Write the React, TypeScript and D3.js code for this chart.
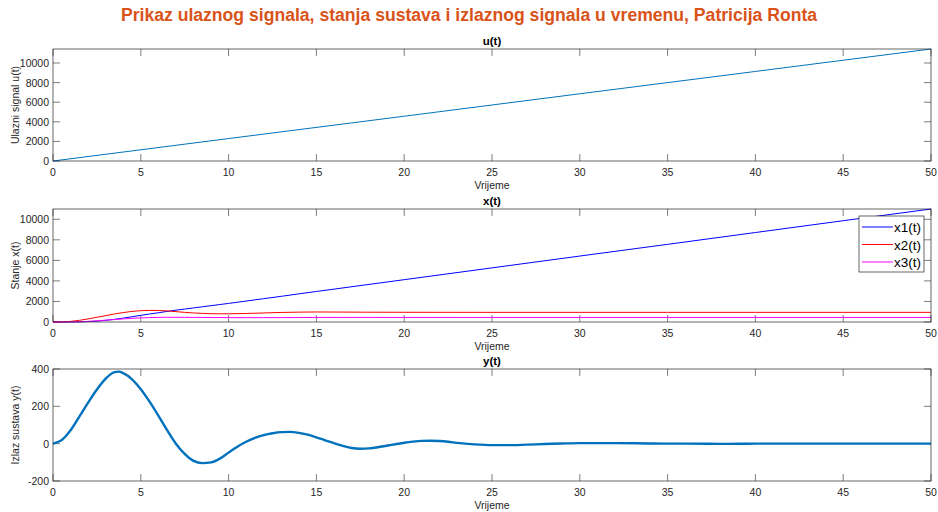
import React, { useEffect, useRef } from "react";
import * as d3 from "d3";

// time grid for u(t)
const uTime = [0, 10, 20, 30, 40, 50];
const uValues = [0, 2290, 4570, 6860, 9140, 11430];

// states
const xTime = [0, 0.5, 1, 1.5, 2, 2.5, 3, 3.5, 4, 4.5, 5, 5.5, 6, 6.5, 7, 7.5, 8, 8.5, 9, 9.5, 10, 11, 12, 13, 14, 15, 16, 18, 20, 25, 30, 35, 40, 45, 50];
const x1Values = [0, 0, 5, 15, 40, 90, 160, 260, 380, 510, 650, 780, 900, 1030, 1150, 1260, 1370, 1480, 1590, 1700, 1810, 2040, 2270, 2500, 2740, 2970, 3200, 3660, 4120, 5270, 6420, 7560, 8710, 9860, 11000];
const x2Values = [0, 10, 60, 160, 300, 460, 620, 780, 920, 1030, 1100, 1130, 1120, 1080, 1010, 940, 880, 840, 810, 800, 800, 830, 880, 930, 960, 975, 970, 955, 945, 940, 940, 940, 940, 940, 940];
const x3Values = [0, 0, 5, 20, 60, 110, 180, 240, 300, 355, 400, 430, 450, 458, 460, 456, 450, 443, 435, 430, 425, 422, 425, 430, 436, 440, 442, 443, 443, 443, 443, 443, 443, 443, 443];
const xNames = ["x1(t)", "x2(t)", "x3(t)"];
const xColors = ["#0000ff", "#ff0000", "#ff00ff"];

// output
const yTime = [0, 0.25, 0.5, 1, 1.5, 2, 2.5, 3, 3.25, 3.5, 3.75, 4, 4.5, 5, 5.5, 6, 6.5, 7, 7.5, 8, 8.5, 9, 9.5, 10, 10.5, 11, 11.5, 12, 12.5, 13, 13.5, 14, 14.5, 15, 15.5, 16, 16.5, 17, 17.5, 18, 18.5, 19, 19.5, 20, 20.5, 21, 21.5, 22, 22.5, 23, 24, 25, 26, 27, 28, 29, 30, 31, 32, 34, 36, 38, 40, 42, 45, 48, 50];
const yValues = [0, 8, 20, 72, 145, 220, 290, 348, 370, 383, 386, 378, 345, 292, 225, 150, 72, 0, -55, -92, -104, -100, -80, -48, -16, 10, 31, 46, 56, 62, 63, 58, 48, 34, 18, 3, -12, -23, -27, -25, -19, -11, -3, 5, 11, 15, 16, 14, 10, 4, -4, -8, -8, -5, -2, 1, 3, 3, 3, 1, 0, -1, 0, 0, 0, 0, 0];

const xTicks = d3.range(0, 51, 5);
const uTicks = [0, 2000, 4000, 6000, 8000, 10000];
const stateTicks = [0, 2000, 4000, 6000, 8000, 10000];
const outTicks = [-200, 0, 200, 400];

const W = 938;
const H = 512;
const left = 53;
const right = 931;
const axisColor = "#262626";
const font = "'Liberation Sans', Arial, sans-serif";

const App: React.FC = () => {
  const svgRef = useRef<SVGSVGElement | null>(null);

  useEffect(() => {
    const svg = d3.select(svgRef.current);
    svg.selectAll("*").remove();

    svg
      .append("text")
      .attr("x", 469)
      .attr("y", 21)
      .attr("text-anchor", "middle")
      .attr("font-family", font)
      .attr("font-weight", "bold")
      .attr("font-size", 17.6)
      .attr("fill", "#d95319")
      .text("Prikaz ulaznog signala, stanja sustava i izlaznog signala u vremenu, Patricija Ronta");

    const xScale = d3.scaleLinear().domain([0, 50]).range([left, right]);

    function panel(
      top: number,
      bottom: number,
      domain: [number, number],
      yTicks: number[],
      title: string,
      ylabel: string
    ) {
      const yScale = d3.scaleLinear().domain(domain).range([bottom, top]);
      const g = svg.append("g");
      const tl = 7;

      // x ticks bottom + top
      xTicks.forEach((t) => {
        const x = xScale(t);
        g.append("line").attr("x1", x).attr("x2", x).attr("y1", bottom).attr("y2", bottom - tl)
          .attr("stroke", axisColor).attr("stroke-width", 0.6);
        g.append("line").attr("x1", x).attr("x2", x).attr("y1", top).attr("y2", top + tl)
          .attr("stroke", axisColor).attr("stroke-width", 0.6);
        g.append("text").attr("x", x).attr("y", bottom + 15)
          .attr("text-anchor", "middle").attr("font-family", font).attr("font-size", 10.5)
          .attr("fill", axisColor).text(t);
      });
      yTicks.forEach((v) => {
        const y = yScale(v);
        g.append("line").attr("x1", left).attr("x2", left + tl).attr("y1", y).attr("y2", y)
          .attr("stroke", axisColor).attr("stroke-width", 0.6);
        g.append("line").attr("x1", right).attr("x2", right - tl).attr("y1", y).attr("y2", y)
          .attr("stroke", axisColor).attr("stroke-width", 0.6);
        g.append("text").attr("x", left - 4).attr("y", y + 4)
          .attr("text-anchor", "end").attr("font-family", font).attr("font-size", 10.5)
          .attr("fill", axisColor).text(v);
      });

      g.append("text").attr("x", (left + right) / 2).attr("y", top - 4)
        .attr("text-anchor", "middle").attr("font-family", font).attr("font-weight", "bold")
        .attr("font-size", 11.5).attr("fill", "#000").text(title);
      g.append("text").attr("x", (left + right) / 2).attr("y", bottom + 28)
        .attr("text-anchor", "middle").attr("font-family", font)
        .attr("font-size", 10.5).attr("fill", axisColor).text("Vrijeme");
      g.append("text")
        .attr("transform", `translate(19, ${(top + bottom) / 2}) rotate(-90)`)
        .attr("text-anchor", "middle").attr("font-family", font)
        .attr("font-size", 10.5).attr("fill", axisColor).text(ylabel);

      return { g, yScale };
    }

    function frame(g: any, top: number, bottom: number) {
      g.append("rect").attr("x", left).attr("y", top).attr("width", right - left)
        .attr("height", bottom - top).attr("fill", "none")
        .attr("stroke", axisColor).attr("stroke-width", 0.7);
    }

    // u(t)
    {
      const top = 49, bottom = 161;
      const { g, yScale } = panel(top, bottom, [0, 11430], uTicks, "u(t)", "Ulazni signal u(t)");
      const line = d3.line<number>().x((_, i) => xScale(uTime[i])).y((d) => yScale(d));
      g.append("path").attr("d", line(uValues)).attr("fill", "none")
        .attr("stroke", "#0072bd").attr("stroke-width", 1);
      frame(g, top, bottom);
    }

    // x(t)
    {
      const top = 209, bottom = 322;
      const { g, yScale } = panel(top, bottom, [0, 11000], stateTicks, "x(t)", "Stanje x(t)");
      const line = d3.line<number>().x((_, i) => xScale(xTime[i])).y((d) => yScale(d))
        .curve(d3.curveMonotoneX);
      [x1Values, x2Values, x3Values].forEach((vals, k) => {
        g.append("path").attr("d", line(vals)).attr("fill", "none")
          .attr("stroke", xColors[k]).attr("stroke-width", 1);
      });
      frame(g, top, bottom);

      // legend
      const lx = 859, ly = 216, lw = 65, lh = 56;
      const lg = g.append("g");
      lg.append("rect").attr("x", lx).attr("y", ly).attr("width", lw).attr("height", lh)
        .attr("fill", "#fff").attr("stroke", axisColor).attr("stroke-width", 0.7);
      xNames.forEach((name, k) => {
        const yy = ly + 11 + k * 17.5;
        lg.append("line").attr("x1", lx + 3).attr("x2", lx + 34).attr("y1", yy).attr("y2", yy)
          .attr("stroke", xColors[k]).attr("stroke-width", 1);
        lg.append("text").attr("x", lx + 35).attr("y", yy + 5).attr("font-family", font)
          .attr("font-size", 13.5).attr("fill", "#000").text(name);
      });
    }

    // y(t)
    {
      const top = 369, bottom = 481;
      const { g, yScale } = panel(top, bottom, [-200, 400], outTicks, "y(t)", "Izlaz sustava  y(t)");
      const line = d3.line<number>().x((_, i) => xScale(yTime[i])).y((d) => yScale(d))
        .curve(d3.curveMonotoneX);
      g.append("path").attr("d", line(yValues)).attr("fill", "none")
        .attr("stroke", "#0072bd").attr("stroke-width", 2.4);
      frame(g, top, bottom);
    }
  }, []);

  return (
    <div style={{ position: "absolute", left: 0, top: 0 }}>
      <svg ref={svgRef} width={W} height={H} style={{ display: "block", background: "#fff" }} />
    </div>
  );
};

export default App;
